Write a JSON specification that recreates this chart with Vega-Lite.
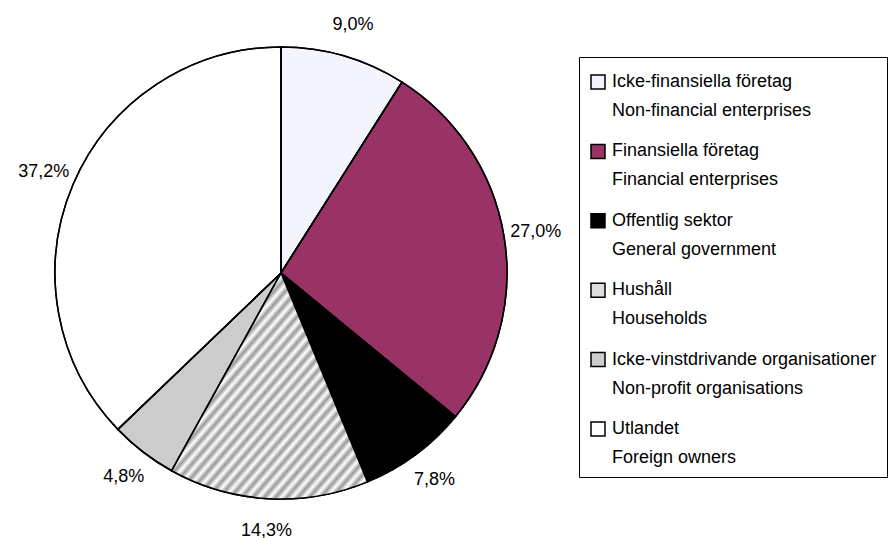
{
  "$schema": "https://vega.github.io/schema/vega-lite/v6.json",
  "width": 562,
  "height": 546,
  "padding": 0,
  "autosize": {"type": "pad"},
  "background": "white",
  "config": {
    "view": {"stroke": null},
    "locale": {"number": {"decimal": ",", "thousands": " ", "grouping": [3], "currency": ["", " kr"]}},
    "style": {"guide-label": {"lineHeight": 29}}
  },
  "data": {
    "values": [
      {"sector": "Icke-finansiella företag\nNon-financial enterprises", "share": 0.090, "order": 1},
      {"sector": "Finansiella företag\nFinancial enterprises", "share": 0.270, "order": 2},
      {"sector": "Offentlig sektor\nGeneral government", "share": 0.078, "order": 3},
      {"sector": "Hushåll\nHouseholds", "share": 0.143, "order": 4},
      {"sector": "Icke-vinstdrivande organisationer\nNon-profit organisations", "share": 0.048, "order": 5},
      {"sector": "Utlandet\nForeign owners", "share": 0.372, "order": 6}
    ]
  },
  "encoding": {
    "theta": {"field": "share", "type": "quantitative", "stack": true},
    "order": {"field": "order", "type": "quantitative"}
  },
  "layer": [
    {
      "mark": {"type": "arc", "outerRadius": 226, "stroke": "black", "strokeWidth": 1.5},
      "encoding": {
        "color": {
          "field": "sector",
          "type": "nominal",
          "scale": {
            "domain": [
              "Icke-finansiella företag\nNon-financial enterprises",
              "Finansiella företag\nFinancial enterprises",
              "Offentlig sektor\nGeneral government",
              "Hushåll\nHouseholds",
              "Icke-vinstdrivande organisationer\nNon-profit organisations",
              "Utlandet\nForeign owners"
            ],
            "range": ["#f4f4fe", "#993366", "#000000", "#dddddd", "#cccccc", "#ffffff"]
          },
          "legend": {
            "orient": "none",
            "legendX": 579,
            "legendY": 57,
            "title": " ",
            "titleFontSize": 1,
            "titlePadding": 5,
            "strokeColor": "black",
            "fillColor": "white",
            "padding": 10,
            "symbolType": "square",
            "symbolSize": 196,
            "symbolStrokeColor": "black",
            "symbolStrokeWidth": 1.5,
            "symbolOpacity": 1,
            "labelFont": "Liberation Sans",
            "labelFontSize": 18,
            "labelColor": "black",
            "labelOffset": 5,
            "labelLimit": 400,
            "rowPadding": 21.4,
            "labelExpr": "split(datum.label, '\\n')"
          }
        }
      }
    },
    {
      "mark": {"type": "arc", "outerRadius": 226, "stroke": "black", "strokeWidth": 1.5},
      "encoding": {
        "fill": {
          "condition": {
            "test": "datum.order === 4",
            "value": {"gradient": "linear", "x1": 0, "y1": 0, "x2": 1.15, "y2": 1.15, "stops": [
              {"offset": 0, "color": "#ffffff"}, {"offset": 0.0125, "color": "#999999"},
              {"offset": 0.025, "color": "#ffffff"}, {"offset": 0.0375, "color": "#999999"},
              {"offset": 0.05, "color": "#ffffff"}, {"offset": 0.0625, "color": "#999999"},
              {"offset": 0.075, "color": "#ffffff"}, {"offset": 0.0875, "color": "#999999"},
              {"offset": 0.1, "color": "#ffffff"}, {"offset": 0.1125, "color": "#999999"},
              {"offset": 0.125, "color": "#ffffff"}, {"offset": 0.1375, "color": "#999999"},
              {"offset": 0.15, "color": "#ffffff"}, {"offset": 0.1625, "color": "#999999"},
              {"offset": 0.175, "color": "#ffffff"}, {"offset": 0.1875, "color": "#999999"},
              {"offset": 0.2, "color": "#ffffff"}, {"offset": 0.2125, "color": "#999999"},
              {"offset": 0.225, "color": "#ffffff"}, {"offset": 0.2375, "color": "#999999"},
              {"offset": 0.25, "color": "#ffffff"}, {"offset": 0.2625, "color": "#999999"},
              {"offset": 0.275, "color": "#ffffff"}, {"offset": 0.2875, "color": "#999999"},
              {"offset": 0.3, "color": "#ffffff"}, {"offset": 0.3125, "color": "#999999"},
              {"offset": 0.325, "color": "#ffffff"}, {"offset": 0.3375, "color": "#999999"},
              {"offset": 0.35, "color": "#ffffff"}, {"offset": 0.3625, "color": "#999999"},
              {"offset": 0.375, "color": "#ffffff"}, {"offset": 0.3875, "color": "#999999"},
              {"offset": 0.4, "color": "#ffffff"}, {"offset": 0.4125, "color": "#999999"},
              {"offset": 0.425, "color": "#ffffff"}, {"offset": 0.4375, "color": "#999999"},
              {"offset": 0.45, "color": "#ffffff"}, {"offset": 0.4625, "color": "#999999"},
              {"offset": 0.475, "color": "#ffffff"}, {"offset": 0.4875, "color": "#999999"},
              {"offset": 0.5, "color": "#ffffff"}, {"offset": 0.5125, "color": "#999999"},
              {"offset": 0.525, "color": "#ffffff"}, {"offset": 0.5375, "color": "#999999"},
              {"offset": 0.55, "color": "#ffffff"}, {"offset": 0.5625, "color": "#999999"},
              {"offset": 0.575, "color": "#ffffff"}, {"offset": 0.5875, "color": "#999999"},
              {"offset": 0.6, "color": "#ffffff"}, {"offset": 0.6125, "color": "#999999"},
              {"offset": 0.625, "color": "#ffffff"}, {"offset": 0.6375, "color": "#999999"},
              {"offset": 0.65, "color": "#ffffff"}, {"offset": 0.6625, "color": "#999999"},
              {"offset": 0.675, "color": "#ffffff"}, {"offset": 0.6875, "color": "#999999"},
              {"offset": 0.7, "color": "#ffffff"}, {"offset": 0.7125, "color": "#999999"},
              {"offset": 0.725, "color": "#ffffff"}, {"offset": 0.7375, "color": "#999999"},
              {"offset": 0.75, "color": "#ffffff"}, {"offset": 0.7625, "color": "#999999"},
              {"offset": 0.775, "color": "#ffffff"}, {"offset": 0.7875, "color": "#999999"},
              {"offset": 0.8, "color": "#ffffff"}, {"offset": 0.8125, "color": "#999999"},
              {"offset": 0.825, "color": "#ffffff"}, {"offset": 0.8375, "color": "#999999"},
              {"offset": 0.85, "color": "#ffffff"}, {"offset": 0.8625, "color": "#999999"},
              {"offset": 0.875, "color": "#ffffff"}, {"offset": 0.8875, "color": "#999999"},
              {"offset": 0.9, "color": "#ffffff"}, {"offset": 0.9125, "color": "#999999"},
              {"offset": 0.925, "color": "#ffffff"}, {"offset": 0.9375, "color": "#999999"},
              {"offset": 0.95, "color": "#ffffff"}, {"offset": 0.9625, "color": "#999999"},
              {"offset": 0.975, "color": "#ffffff"}, {"offset": 0.9875, "color": "#999999"},
              {"offset": 1, "color": "#ffffff"}
            ]}
          },
          "value": "transparent"
        }
      }
    },
    {
      "mark": {"type": "text", "radius": 258, "font": "Liberation Sans", "fontSize": 18, "color": "black", "align": "center", "baseline": "middle"},
      "encoding": {
        "text": {"field": "share", "type": "quantitative", "format": ".1%"}
      }
    }
  ]
}
